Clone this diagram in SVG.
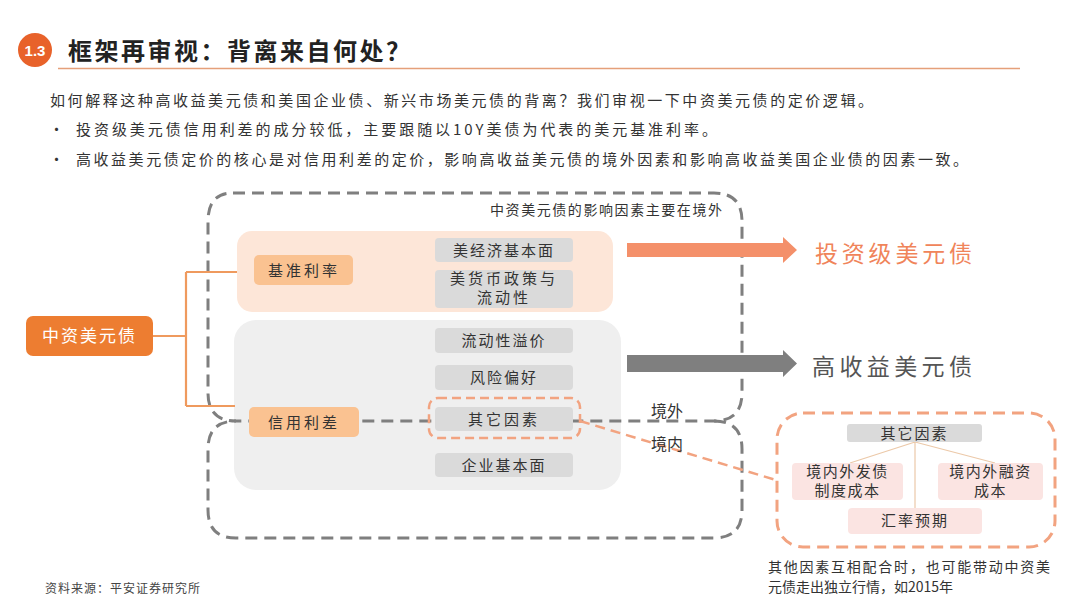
<svg xmlns="http://www.w3.org/2000/svg" width="1080" height="608" viewBox="0 0 1080 608">
<style>
text{font-family:"Noto Sans CJK SC","Noto Sans",sans-serif;}
.body{font-size:15px;fill:#333;}
.item{font-size:15px;fill:#333;text-anchor:middle;}
.gbox{fill:#dadada;}
.pbox{fill:#fbe4e2;}
.dash{fill:none;stroke:#7f7f7f;stroke-width:3;stroke-dasharray:12 7;}
.odash{fill:none;stroke:#f2a380;stroke-width:3;stroke-dasharray:12 7;}
.conn{fill:none;stroke:#ef9a5e;stroke-width:2.2;}
.thin{fill:none;stroke:#ecc9a9;stroke-width:1.2;}
</style>
<rect width="1080" height="608" fill="#fff"/>
<g id="title">
<circle cx="35" cy="50" r="17" fill="#e8622a"/>
<text x="35" y="56" font-size="15" font-weight="bold" fill="#fff" text-anchor="middle" style="font-family:'Liberation Sans',sans-serif">1.3</text>
<text x="68" y="60" font-size="24" font-weight="bold" fill="#222" textLength="342" lengthAdjust="spacing">框架再审视：背离来自何处？</text>
<line x1="58" y1="68.5" x2="1020" y2="68.5" stroke="#e5a07a" stroke-width="1.5"/>
</g>
<g id="intro">
<text class="body" x="50" y="106" textLength="823" lengthAdjust="spacing">如何解释这种高收益美元债和美国企业债、新兴市场美元债的背离？我们审视一下中资美元债的定价逻辑。</text>
<text class="body" x="49" y="135">•</text>
<text class="body" x="76" y="135" textLength="641" lengthAdjust="spacing">投资级美元债信用利差的成分较低，主要跟随以10Y美债为代表的美元基准利率。</text>
<text class="body" x="49" y="165">•</text>
<text class="body" x="76" y="165" textLength="892" lengthAdjust="spacing">高收益美元债定价的核心是对信用利差的定价，影响高收益美元债的境外因素和影响高收益美国企业债的因素一致。</text>
</g>
<g id="regions">
<rect x="237" y="231" width="376" height="81" rx="15" fill="#fde6d8"/>
<rect x="234" y="320" width="387" height="170" rx="22" fill="#efefef"/>
</g>
<g id="connectors">
<path class="dash" d="M233,193 H714 Q742,193 742,221 V393 Q742,421 714,421 H236 Q208,421 208,393 V221 Q208,193 233,193 Z"/>
<path class="dash" d="M714,421 Q742,421 742,449 V510 Q742,538 714,538 H236 Q208,538 208,510 V449 Q208,421 236,421"/>
<path class="conn" d="M153,336 H186 M186,272 V406 M186,272 H237 M186,406 H235"/>
<line x1="580" y1="421" x2="776" y2="480" stroke="#f2a380" stroke-width="2.5" stroke-dasharray="10 6"/>
<path class="thin" d="M915,442 L850,463 M915,442 V508 M915,442 L995,463"/>
<path d="M627,243 H783 V237 L797,250 L783,263 V257 H627 Z" fill="#f4906a"/>
<path d="M627,355 H783 V350 L797,363.5 L783,377 V372 H627 Z" fill="#7f7f7f"/>
</g>
<g id="labels">
<text x="490" y="215" font-size="14" fill="#333" textLength="232" lengthAdjust="spacing">中资美元债的影响因素主要在境外</text>
<text x="651" y="417" font-size="16" fill="#333">境外</text>
<text x="651" y="450" font-size="16" fill="#333">境内</text>
<text x="815" y="262" font-size="23" fill="#f0845a" textLength="157" lengthAdjust="spacing">投资级美元债</text>
<text x="812" y="375" font-size="23" fill="#555" textLength="160" lengthAdjust="spacing">高收益美元债</text>
</g>
<g id="node-zhongzi">
<rect x="26" y="316" width="127" height="40" rx="7" fill="#ed7d31"/>
<text x="89.5" y="342" font-size="17" fill="#fff" text-anchor="middle" letter-spacing="2">中资美元债</text>
</g>
<g id="node-jizhun">
<rect x="254" y="255" width="99" height="30" rx="5" fill="#fac291"/>
<text class="item" x="304" y="276" letter-spacing="3">基准利率</text>
</g>
<g id="node-xinyong">
<rect x="249" y="407" width="110" height="30" rx="5" fill="#fac291"/>
<text class="item" x="304" y="428" letter-spacing="3">信用利差</text>
</g>
<g id="node-mjj">
<rect class="gbox" x="435" y="238" width="138" height="24" rx="4"/>
<text class="item" x="504" y="256" letter-spacing="2">美经济基本面</text>
</g>
<g id="node-mhb">
<rect class="gbox" x="435" y="270" width="138" height="38" rx="4"/>
<text class="item" font-size="13" letter-spacing="3"><tspan x="504" y="284">美货币政策与</tspan><tspan x="504" y="303">流动性</tspan></text>
</g>
<g id="node-ldx">
<rect class="gbox" x="435" y="328" width="138" height="25" rx="4"/>
<text class="item" x="504" y="346" letter-spacing="2">流动性溢价</text>
</g>
<g id="node-fx">
<rect class="gbox" x="435" y="365" width="138" height="25" rx="4"/>
<text class="item" x="504" y="383" letter-spacing="2">风险偏好</text>
</g>
<g id="node-qt">
<rect class="gbox" x="435" y="407" width="138" height="24" rx="4"/>
<text class="item" x="504" y="425" letter-spacing="3">其它因素</text>
<rect x="429" y="398" width="151" height="40" rx="9" fill="none" stroke="#f2a380" stroke-width="2.5" stroke-dasharray="9 5"/>
</g>
<g id="node-qy">
<rect class="gbox" x="435" y="453" width="138" height="24" rx="4"/>
<text class="item" x="504" y="471" letter-spacing="2">企业基本面</text>
</g>
<g id="detail">
<rect class="odash" x="777" y="413" width="278" height="134" rx="26"/>
<rect class="gbox" x="847" y="424" width="135" height="18" rx="3"/>
<text class="item" x="914.5" y="439" letter-spacing="2">其它因素</text>
<rect class="pbox" x="792" y="463" width="111" height="37" rx="4"/>
<text class="item" font-size="13" letter-spacing="1.5"><tspan x="847.5" y="477">境内外发债</tspan><tspan x="847.5" y="496">制度成本</tspan></text>
<rect class="pbox" x="938" y="463" width="105" height="37" rx="4"/>
<text class="item" font-size="13" letter-spacing="1.5"><tspan x="990.5" y="477">境内外融资</tspan><tspan x="990.5" y="496">成本</tspan></text>
<rect class="pbox" x="848" y="508" width="134" height="26" rx="4"/>
<text class="item" x="915" y="526" font-size="14" letter-spacing="2">汇率预期</text>
<text x="768" y="572" font-size="14" fill="#333" textLength="282" lengthAdjust="spacing">其他因素互相配合时，也可能带动中资美</text>
<text x="768" y="592" font-size="14" fill="#333">元债走出独立行情，如2015年</text>
</g>
<g id="footer">
<text x="45" y="593" font-size="12" fill="#444" letter-spacing="1">资料来源：平安证券研究所</text>
</g>
</svg>
